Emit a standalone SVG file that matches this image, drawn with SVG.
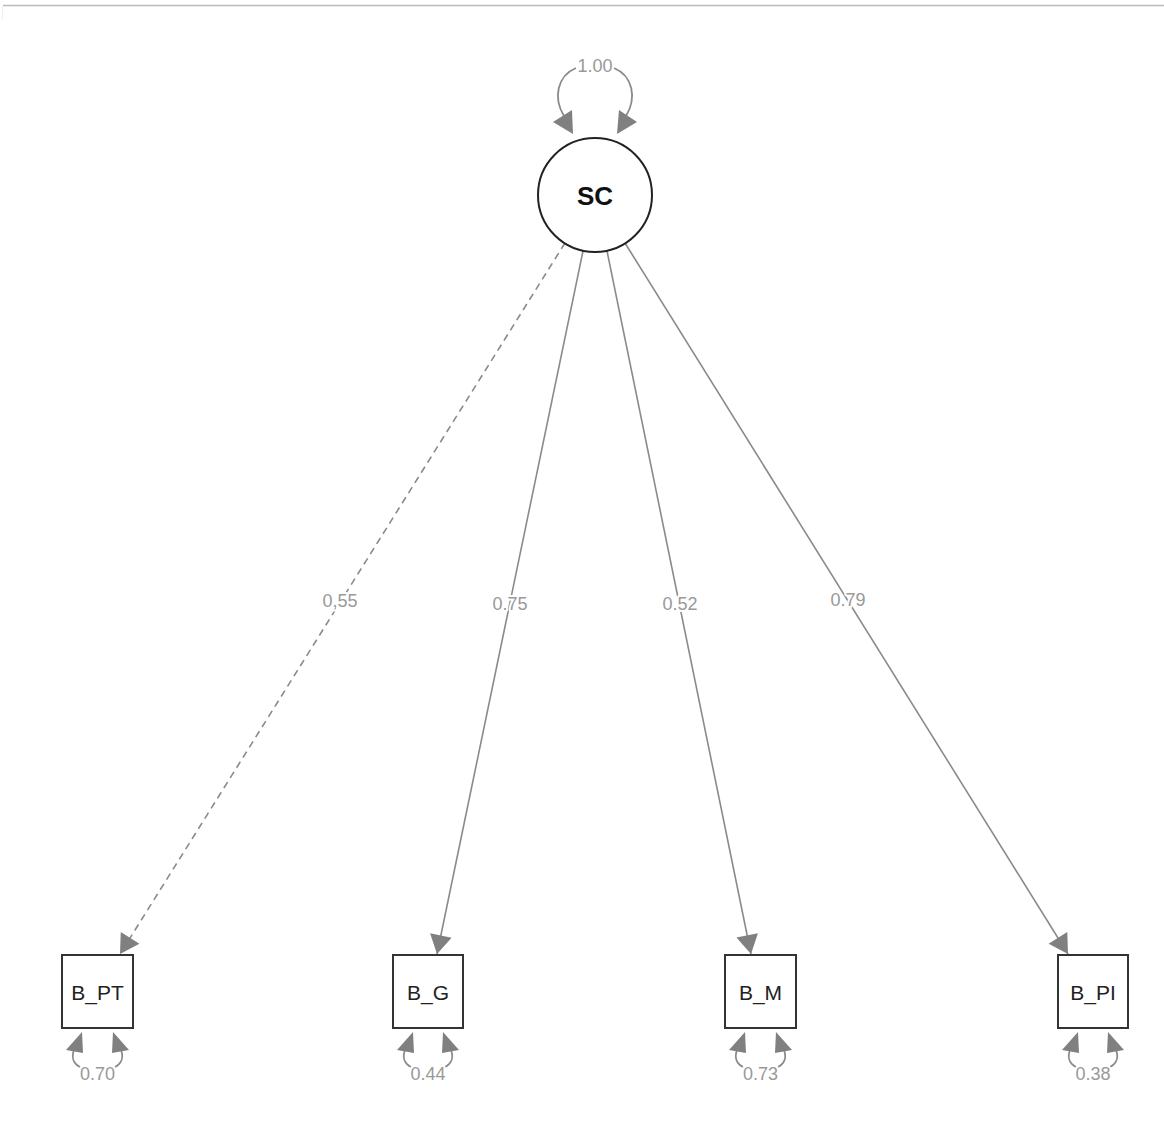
<svg xmlns="http://www.w3.org/2000/svg" width="1164" height="1126" viewBox="0 0 1164 1126">
<style>
.edge{stroke:#8a8a8a;stroke-width:1.6;fill:none}
.loop{stroke:#8a8a8a;stroke-width:1.8;fill:none}
.ah{fill:#808080}
.lbl{font-family:"Liberation Sans",Arial,sans-serif;font-size:18px;fill:#999;text-anchor:middle;dominant-baseline:central;stroke:#fff;stroke-width:4px;paint-order:stroke;stroke-linejoin:round}
.box{fill:#fff;stroke:#333;stroke-width:2}
.name{font-family:"Liberation Sans",Arial,sans-serif;font-size:21px;fill:#222;text-anchor:middle;dominant-baseline:central}
</style>
<defs>
<marker id="ah" markerUnits="userSpaceOnUse" markerWidth="22" markerHeight="22" viewBox="0 0 19 22" refX="19" refY="11" orient="auto">
<path d="M0,0 L19,11 L0,22 Z" fill="#808080"/>
</marker>
</defs>
<rect width="1164" height="1126" fill="#fff"/>
<line x1="3" y1="5.5" x2="1164" y2="5.5" stroke="#bbb" stroke-width="1.5"/>
<line x1="2.5" y1="6" x2="2.5" y2="20" stroke="#f0f0f0" stroke-width="1"/>
<g id="connectors">
<line class="edge" x1="565" y1="243" x2="120" y2="954" stroke-dasharray="7,5" marker-end="url(#ah)"/>
<line class="edge" x1="583" y1="251" x2="437" y2="954" marker-end="url(#ah)"/>
<line class="edge" x1="607" y1="251" x2="751" y2="954" marker-end="url(#ah)"/>
<line class="edge" x1="625" y1="243" x2="1068" y2="954" marker-end="url(#ah)"/>
<text class="lbl" x="340" y="601">0,55</text>
<text class="lbl" x="510" y="604">0.75</text>
<text class="lbl" x="680" y="604">0.52</text>
<text class="lbl" x="848" y="600">0.79</text>
</g>
<g id="SC">
<path class="loop" d="M564,116 C553,98 557,76 576,68 M614,68 C633,76 637,98 626,116"/>
<polygon class="ah" points="553,122 573,134 572,110"/>
<polygon class="ah" points="637,122 617,134 619,110"/>
<text class="lbl" x="595" y="66">1.00</text>
<circle cx="595" cy="195" r="57" fill="#fff" stroke="#222" stroke-width="2"/>
<text x="595" y="196" font-family="Liberation Sans,Arial,sans-serif" font-size="26" font-weight="bold" fill="#111" text-anchor="middle" dominant-baseline="central">SC</text>
</g>
<g id="B_PT">
<rect class="box" x="62" y="955" width="71" height="73"/>
<text class="name" x="97.5" y="992">B_PT</text>
<path class="loop" d="M74,1050 C71,1058 74,1064 80,1067 M115,1067 C121,1064 124,1058 121,1050"/>
<polygon class="ah" points="66,1050 82,1032 83,1053"/>
<polygon class="ah" points="129,1050 113,1032 112,1053"/>
<text class="lbl" x="97.5" y="1074">0.70</text>
</g>
<g id="B_G">
<rect class="box" x="393" y="955" width="70" height="73"/>
<text class="name" x="428" y="992">B_G</text>
<path class="loop" d="M405,1050 C402,1058 405,1064 411,1067 M445,1067 C451,1064 454,1058 451,1050"/>
<polygon class="ah" points="397,1050 413,1032 414,1053"/>
<polygon class="ah" points="459,1050 443,1032 442,1053"/>
<text class="lbl" x="428" y="1074">0.44</text>
</g>
<g id="B_M">
<rect class="box" x="725" y="955" width="71" height="73"/>
<text class="name" x="760.5" y="992">B_M</text>
<path class="loop" d="M737,1050 C734,1058 737,1064 743,1067 M778,1067 C784,1064 787,1058 784,1050"/>
<polygon class="ah" points="729,1050 745,1032 746,1053"/>
<polygon class="ah" points="792,1050 776,1032 775,1053"/>
<text class="lbl" x="760.5" y="1074">0.73</text>
</g>
<g id="B_PI">
<rect class="box" x="1058" y="955" width="70" height="73"/>
<text class="name" x="1093" y="992">B_PI</text>
<path class="loop" d="M1070,1050 C1067,1058 1070,1064 1076,1067 M1110,1067 C1116,1064 1119,1058 1116,1050"/>
<polygon class="ah" points="1062,1050 1078,1032 1079,1053"/>
<polygon class="ah" points="1124,1050 1108,1032 1107,1053"/>
<text class="lbl" x="1093" y="1074">0.38</text>
</g>
</svg>
